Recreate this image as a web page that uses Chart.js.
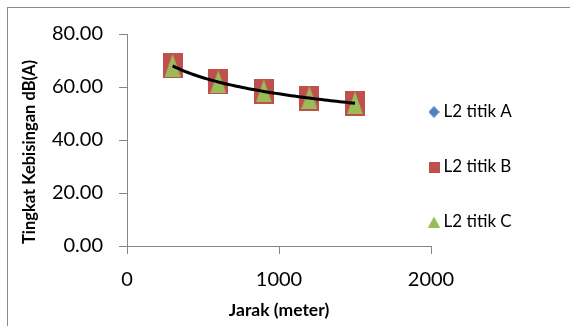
<!DOCTYPE html>
<html>
<head>
<meta charset="utf-8">
<script src="https://cdn.jsdelivr.net/npm/chart.js@4.4.1/dist/chart.umd.min.js"></script>
<style>
html,body{margin:0;padding:0;background:#fff}
#wrap{position:relative;width:570px;height:326px}
</style>
</head>
<body>
<div id="wrap"><canvas id="noiseChart"></canvas></div>
<script>
// jarak (meter) dan tingkat kebisingan dB(A)
const jarak = [300, 600, 900, 1200, 1500]
const titikA = [67.8, 61.8, 58.2, 55.7, 53.7]
const titikB = [68.0, 61.9, 58.3, 55.8, 53.8]
const titikC = [68.2, 62.0, 58.5, 56.0, 54.0]
const labelsSeri = ["L2 titik A", "L2 titik B", "L2 titik C"]
const judulY = "Tingkat Kebisingan dB(A)"
const judulX = "Jarak (meter)"

const FONT = "Lato"

function makeMarker(w, h, color, shape){
const c = document.createElement("canvas")
c.width = w
c.height = h
const g = c.getContext("2d")
g.fillStyle = color
g.beginPath()
if(shape === "square"){
g.rect(0, 0, w, h)
} else if(shape === "triangle"){
g.moveTo(w/2, 0); g.lineTo(w, h); g.lineTo(0, h)
} else {
g.moveTo(w/2, 0); g.lineTo(w, h/2); g.lineTo(w/2, h); g.lineTo(0, h/2)
}
g.closePath()
g.fill()
return c
}

const markA = makeMarker(12, 15, "#4F81BD", "diamond")
const markB = makeMarker(20, 25, "#C0504D", "square")
const markC = makeMarker(16, 23, "#9BBB59", "triangle")
// smaller copies for the legend
const legendMarks = [
makeMarker(11, 12, "#4F81BD", "diamond"),
makeMarker(11, 11, "#C0504D", "square"),
makeMarker(12, 11, "#9BBB59", "triangle")
]

function toPoints(ys){
return jarak.map((x, i) => ({x: x, y: ys[i]}))
}

// logarithmic trendline (least squares on ln x), like the spreadsheet one
function logTrend(){
const xs = [], ys = []
;[titikA, titikB, titikC].forEach(s => s.forEach((v, i) => { xs.push(Math.log(jarak[i])); ys.push(v) }))
const mx = xs.reduce((a, b) => a + b, 0) / xs.length
const my = ys.reduce((a, b) => a + b, 0) / ys.length
let sxy = 0, sxx = 0
xs.forEach((x, i) => { sxy += (x - mx) * (ys[i] - my); sxx += (x - mx) * (x - mx) })
const b = sxy / sxx
const a = my - b * mx
const pts = []
for(let x = jarak[0]; x <= jarak[jarak.length - 1]; x += 20){
pts.push({x: x, y: a + b * Math.log(x)})
}
return pts
}

const frame = {
id: "frame",
beforeDraw(chart){
const ctx = chart.ctx
ctx.save()
ctx.strokeStyle = "#8a8a8a"
ctx.lineWidth = 1
ctx.strokeRect(7.5, 7.5, 700, 500)
ctx.restore()
},
afterDraw(chart){
// y axis title, centred a little lower than the plot like the original
const ctx = chart.ctx
ctx.save()
ctx.translate(30, 152)
ctx.rotate(-Math.PI / 2)
ctx.font = "bold 16.5px " + FONT
ctx.fillStyle = "#000"
ctx.textAlign = "center"
ctx.textBaseline = "middle"
ctx.fillText(judulY, 0, 0)
ctx.restore()
}
}

// pull the legend block left/up so its spacing matches the original
const legendNudge = {
id: "legendNudge",
afterLayout(chart){
const l = chart.legend
const dx = l.left - 431 + 36
l.left -= dx; l.right -= dx
l.top -= 13; l.bottom -= 13
}
}

new Chart(document.getElementById("noiseChart"), {
type: "scatter",
data: {
datasets: [
{label: labelsSeri[0], data: toPoints(titikA), pointStyle: markA, backgroundColor: "#4F81BD", borderColor: "#4F81BD", order: 3},
{label: labelsSeri[1], data: toPoints(titikB), pointStyle: markB, backgroundColor: "#C0504D", borderColor: "#C0504D", order: 2},
{label: labelsSeri[2], data: toPoints(titikC), pointStyle: markC, backgroundColor: "#9BBB59", borderColor: "#9BBB59", order: 1},
{label: "trend", data: logTrend(), showLine: true, pointRadius: 0, borderColor: "#000", borderWidth: 3, order: 0}
]
},
options: {
responsive: true,
maintainAspectRatio: false,
animation: false,
layout: {padding: {left: 0, top: 34, right: 0, bottom: 0}},
plugins: {
tooltip: {enabled: false},
legend: {
position: "right",
maxWidth: 139,
labels: {
usePointStyle: true,
boxWidth: 2,
boxHeight: 10,
padding: 38,
color: "#000",
font: {family: FONT, size: 17},
filter: item => item.datasetIndex < 3,
sort: (a, b) => a.datasetIndex - b.datasetIndex,
generateLabels(chart){
const items = Chart.defaults.plugins.legend.labels.generateLabels(chart)
items.forEach(it => { if(it.datasetIndex < 3) it.pointStyle = legendMarks[it.datasetIndex] })
return items
}
}
}
},
scales: {
x: {
type: "linear",
min: 0,
max: 2000,
afterFit(s){ s.height = 80 },
ticks: {stepSize: 1000, color: "#000", padding: 14, maxRotation: 0, font: {family: FONT, size: 20}, callback: v => String(v)},
grid: {drawOnChartArea: false, drawTicks: true, tickLength: 8, color: "#868686"},
border: {color: "#868686"},
title: {display: true, text: judulX, color: "#000", padding: {top: 0, bottom: 5}, font: {family: FONT, size: 17.5, weight: "bold"}}
},
y: {
min: 0,
max: 80,
afterFit(s){ s.width = 127 },
ticks: {stepSize: 20, color: "#000", padding: 16, font: {family: FONT, size: 20}, callback: v => v.toFixed(2)},
grid: {drawOnChartArea: false, drawTicks: true, tickLength: 8, color: "#868686"},
border: {color: "#868686"},
title: {display: false}
}
}
},
plugins: [frame, legendNudge]
})

// keep the plot's right edge where the original has it
const ch = Chart.getChart("noiseChart")
const shift = ch.chartArea.right - 431
if(shift !== 0){
ch.options.layout.padding.right = shift
ch.update()
}
</script>
</body>
</html>
